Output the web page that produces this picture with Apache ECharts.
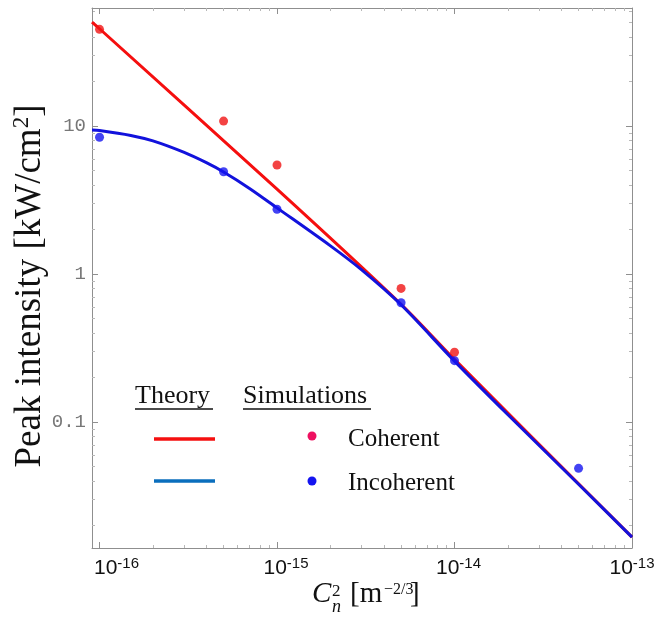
<!DOCTYPE html>
<html>
<head>
<meta charset="utf-8">
<script src="https://cdn.jsdelivr.net/npm/echarts@6.0.0/dist/echarts.min.js"></script>
<style>
html, body { margin: 0; padding: 0; background: #fff; }
#chart { width: 658px; height: 622px; }
</style>
</head>
<body>
<div id="chart"></div>
<script>
// theory curves
var coherentX = [9.07e-17, 1e-16, 1e-15, 5e-15, 1e-14, 1e-13];
var theoryCoherent = [50.4, 45.4, 3.75, 0.625, 0.265, 0.0167];
var incoherentX = [9.07e-17, 1e-16, 1.5e-16, 2e-16, 3e-16, 4e-16, 5e-16, 7e-16, 1e-15, 2e-15, 3e-15, 5e-15, 1e-14, 2e-14, 5e-14, 1e-13];
var theoryIncoherent = [9.4, 9.33, 8.64, 7.93, 6.63, 5.65, 4.89, 3.79, 2.8, 1.55, 1.067, 0.62, 0.258, 0.112, 0.038, 0.0167];

// simulation points
var simX = [1e-16, 5e-16, 1e-15, 5e-15, 1e-14, 5e-14];
var simCoherent = [45, 10.8, 5.45, 0.80, 0.296, null];
var simIncoherent = [8.39, 4.91, 2.74, 0.64, 0.26, 0.0487];

// axes
var xMin = 9.07e-17, xMax = 1e-13;
var yMin = 0.0141, yMax = 62.7;
var xTickValues = [1e-16, 1e-15, 1e-14, 1e-13];
var xTickExps = ['-16', '-15', '-14', '-13'];
var yTickValues = [0.1, 1, 10];
var yTickLabels = ['0.1', '1', '10'];

function pairs(xs, ys) {
    var out = [];
    for (var i = 0; i < xs.length; i++) {
        if (ys[i] != null) out.push([xs[i], ys[i]]);
    }
    return out;
}

function findTick(v, list) {
    var lv = Math.log10(v);
    for (var i = 0; i < list.length; i++) {
        if (Math.abs(lv - Math.log10(list[i])) < 1e-6) return i;
    }
    return -1;
}

var gray = '#8f8f8f';
var serif = '"Liberation Serif", "DejaVu Serif", serif';
var sans = '"Liberation Sans", Arial, sans-serif';
// the exported labels sit a bit right of their ticks, less so to the right
var xLabelPad = [34, 18, 8, 0];

var frameAxis = {
    axisLine: { show: true, lineStyle: { color: gray, width: 1 } },
    axisTick: { show: true, inside: true, length: 6, lineStyle: { color: gray } },
    minorTick: { show: true, splitNumber: 9, length: 3, lineStyle: { color: '#b8b8b8' } },
    splitLine: { show: false }
};

var myChart = echarts.init(document.getElementById('chart'), null, { renderer: 'canvas' });

var option = {
    backgroundColor: '#fff',
    animation: false,
    grid: { left: 92, right: 26, top: 8, bottom: 74, outerBoundsMode: 'none' },
    xAxis: [
        echarts.util.merge({
            type: 'log', logBase: 10, min: xMin, max: xMax, position: 'bottom',
            axisLabel: {
                margin: 8,
                formatter: function (v) {
                    var i = findTick(v, xTickValues);
                    if (i < 0) return '';
                    return '{g' + i + '|}{b|10}{s|' + xTickExps[i] + '}';
                },
                rich: {
                    g0: { width: xLabelPad[0] }, g1: { width: xLabelPad[1] },
                    g2: { width: xLabelPad[2] }, g3: { width: xLabelPad[3] },
                    b: { fontFamily: sans, fontSize: 21, color: '#111' },
                    s: { fontFamily: sans, fontSize: 15, color: '#111', verticalAlign: 'top', padding: [0, 0, 10, 0] }
                }
            }
        }, frameAxis, true),
        echarts.util.merge({
            type: 'log', logBase: 10, min: xMin, max: xMax, position: 'top',
            axisLabel: { show: false }
        }, frameAxis, true)
    ],
    yAxis: [
        echarts.util.merge({
            type: 'log', logBase: 10, min: yMin, max: yMax, position: 'left',
            name: 'Peak intensity [kW/cm{sup|2}]',
            nameLocation: 'middle',
            nameRotate: 90,
            nameGap: 42,
            nameMoveOverlap: false,
            nameTextStyle: {
                fontFamily: serif, fontSize: 37, color: '#111',
                padding: [0, 16, 0, 0],
                rich: { sup: { fontFamily: serif, fontSize: 23, color: '#111', verticalAlign: 'top', padding: [0, 0, 17, 0] } }
            },
            axisLabel: {
                margin: 6,
                fontFamily: '"Liberation Mono", "DejaVu Sans Mono", monospace',
                fontSize: 19,
                color: '#777',
                formatter: function (v) {
                    var i = findTick(v, yTickValues);
                    return i < 0 ? '' : yTickLabels[i];
                }
            }
        }, frameAxis, true),
        echarts.util.merge({
            type: 'log', logBase: 10, min: yMin, max: yMax, position: 'right',
            axisLabel: { show: false }
        }, frameAxis, true)
    ],
    series: [
        {
            name: 'Theory coherent', type: 'line', data: pairs(coherentX, theoryCoherent),
            symbol: 'none', smooth: 0.3, lineStyle: { color: '#f50f0f', width: 3 }, z: 2
        },
        {
            name: 'Theory incoherent', type: 'line', data: pairs(incoherentX, theoryIncoherent),
            symbol: 'none', smooth: 0.3, lineStyle: { color: '#1212dc', width: 3 }, z: 3
        },
        {
            name: 'Simulation coherent', type: 'scatter', data: pairs(simX, simCoherent),
            symbolSize: 9, itemStyle: { color: '#f01414' }, z: 4
        },
        {
            name: 'Simulation incoherent', type: 'scatter', data: pairs(simX, simIncoherent),
            symbolSize: 9, itemStyle: { color: '#1414f0' }, z: 4
        }
    ],
    graphic: [
        // x axis title: C_n^2 [m^-2/3]
        { type: 'text', x: 312, y: 609, style: { text: 'C', font: 'italic 29px ' + serif, fill: '#111', textVerticalAlign: 'bottom' } },
        { type: 'text', x: 332, y: 616, style: { text: 'n', font: 'italic 18px ' + serif, fill: '#111', textVerticalAlign: 'bottom' } },
        { type: 'text', x: 332, y: 600, style: { text: '2', font: '17px ' + serif, fill: '#111', textVerticalAlign: 'bottom' } },
        { type: 'text', x: 350, y: 609, style: { text: '[m', font: '29px ' + serif, fill: '#111', textVerticalAlign: 'bottom' } },
        { type: 'text', x: 384, y: 598, style: { text: '\u22122/3', font: '16px ' + serif, fill: '#111', textVerticalAlign: 'bottom' } },
        { type: 'text', x: 410, y: 609, style: { text: ']', font: '29px ' + serif, fill: '#111', textVerticalAlign: 'bottom' } },

        // legend block
        { type: 'text', x: 135, y: 396, style: { text: 'Theory', font: '26px ' + serif, fill: '#111', textVerticalAlign: 'middle' } },
        { type: 'line', shape: { x1: 135, y1: 409, x2: 213, y2: 409 }, style: { stroke: '#111', lineWidth: 1.5 } },
        { type: 'text', x: 243, y: 396, style: { text: 'Simulations', font: '26px ' + serif, fill: '#111', textVerticalAlign: 'middle' } },
        { type: 'line', shape: { x1: 243, y1: 409, x2: 371, y2: 409 }, style: { stroke: '#111', lineWidth: 1.5 } },

        { type: 'line', shape: { x1: 154, y1: 439, x2: 215, y2: 439 }, style: { stroke: '#f50f0f', lineWidth: 3.5 } },
        { type: 'circle', shape: { cx: 312, cy: 436, r: 4.5 }, style: { fill: '#ee1060' } },
        { type: 'text', x: 348, y: 439, style: { text: 'Coherent', font: '25px ' + serif, fill: '#111', textVerticalAlign: 'middle' } },

        { type: 'line', shape: { x1: 154, y1: 481, x2: 215, y2: 481 }, style: { stroke: '#0a6ebd', lineWidth: 3.5 } },
        { type: 'circle', shape: { cx: 312, cy: 481, r: 4.5 }, style: { fill: '#1414f0' } },
        { type: 'text', x: 348, y: 483, style: { text: 'Incoherent', font: '25px ' + serif, fill: '#111', textVerticalAlign: 'middle' } }
    ]
};

myChart.setOption(option);
</script>
</body>
</html>
